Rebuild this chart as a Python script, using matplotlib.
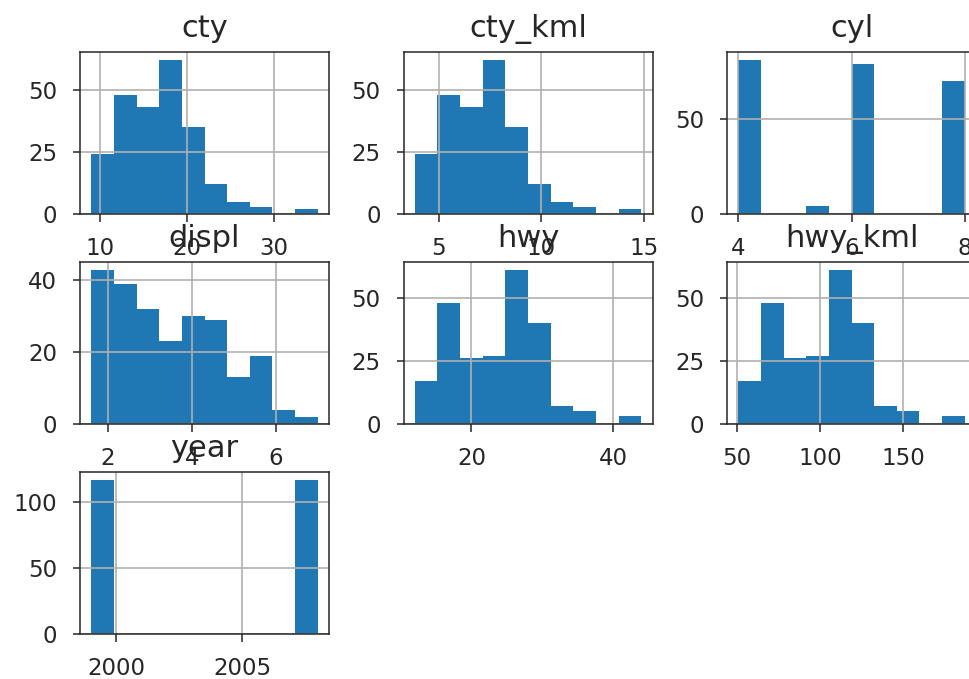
#!/usr/bin/env python3
# histogramas_mpg.py

import numpy as np
import matplotlib
matplotlib.use('Agg')
import matplotlib.pyplot as plt

# ----------------------------
# Dados: contagens por faixa (10 faixas por coluna)
# ----------------------------
colunas = ['cty', 'cty_kml', 'cyl', 'displ', 'hwy', 'hwy_kml', 'year']

cty_range      = (9, 35)
cty_counts     = [24, 48, 43, 62, 35, 12, 5, 3, 0, 2]

cty_kml_range  = (3.825, 14.875)
cty_kml_counts = [24, 48, 43, 62, 35, 12, 5, 3, 0, 2]

cyl_range      = (4, 8)
cyl_counts     = [81, 0, 0, 4, 0, 79, 0, 0, 0, 70]

displ_range    = (1.6, 7.0)
displ_counts   = [43, 39, 32, 23, 30, 29, 13, 19, 4, 2]

hwy_range      = (12, 44)
hwy_counts     = [17, 48, 26, 27, 61, 40, 7, 5, 0, 3]

hwy_kml_range  = (51, 187)
hwy_kml_counts = [17, 48, 26, 27, 61, 40, 7, 5, 0, 3]

year_range     = (1999, 2008)
year_counts    = [117, 0, 0, 0, 0, 0, 0, 0, 0, 117]

# ticks de cada eixo
xticks = {
    'cty':     [10, 20, 30],
    'cty_kml': [5, 10, 15],
    'cyl':     [4, 6, 8],
    'displ':   [2, 4, 6],
    'hwy':     [20, 40],
    'hwy_kml': [50, 100, 150],
    'year':    [2000, 2005],
}
yticks = {
    'cty':     [0, 25, 50],
    'cty_kml': [0, 25, 50],
    'cyl':     [0, 50],
    'displ':   [0, 20, 40],
    'hwy':     [0, 25, 50],
    'hwy_kml': [0, 25, 50],
    'year':    [0, 50, 100],
}

dados = {
    'cty':     (cty_range, cty_counts),
    'cty_kml': (cty_kml_range, cty_kml_counts),
    'cyl':     (cyl_range, cyl_counts),
    'displ':   (displ_range, displ_counts),
    'hwy':     (hwy_range, hwy_counts),
    'hwy_kml': (hwy_kml_range, hwy_kml_counts),
    'year':    (year_range, year_counts),
}

# ----------------------------
# Layout (em pixels)
# ----------------------------
W, H = 969, 679
DPI = 100
col_left = [80, 403.5, 727]
row_top  = [52, 262, 472]
ax_w, ax_h = 249, 162

fig = plt.figure(figsize=(W / DPI, H / DPI), dpi=DPI)

for i, nome in enumerate(colunas):
    r, c = divmod(i, 3)
    x0 = col_left[c] / W
    y0 = 1 - (row_top[r] + ax_h) / H
    ax = fig.add_axes([x0, y0, ax_w / W, ax_h / H])

    (lo, hi), counts = dados[nome]
    edges = np.linspace(lo, hi, len(counts) + 1)
    ax.hist(edges[:-1], bins=edges, weights=counts, color='#1f77b4')

    ax.grid(True, color='#b0b0b0', linewidth=1.2)
    ax.set_xticks(xticks[nome])
    ax.set_yticks(yticks[nome])
    ax.tick_params(labelsize=16.5, length=5.4, width=1.1, pad=11,
                   colors='#262626')
    for s in ax.spines.values():
        s.set_linewidth(1.1)
        s.set_color('#262626')
    ax.set_title(nome, fontsize=22, pad=11, color='#262626')

fig.savefig('out.png', dpi=DPI)
